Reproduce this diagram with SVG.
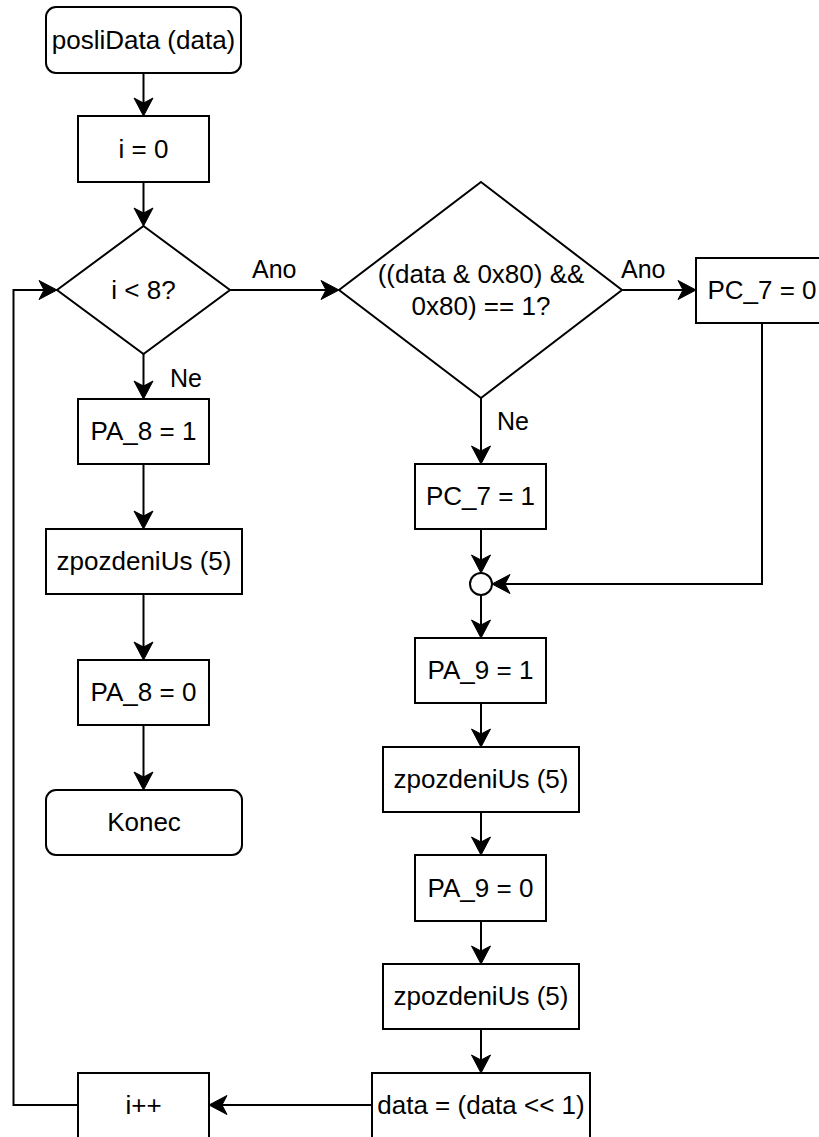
<svg xmlns="http://www.w3.org/2000/svg" width="819" height="1137" viewBox="0 0 819 1137">
<style>
.n{fill:#fff;stroke:#000;stroke-width:2}
.t{font-family:"Liberation Sans",Arial,sans-serif;font-size:26px;fill:#000;text-anchor:middle}
.l{font-family:"Liberation Sans",Arial,sans-serif;font-size:25px;fill:#000}
.c{fill:none;stroke:#000;stroke-width:2}
</style>
<defs>
<marker id="a" markerUnits="userSpaceOnUse" markerWidth="40" markerHeight="40" viewBox="-20 -20 40 40" refX="0" refY="0" orient="auto" overflow="visible">
<path d="M12,0 L-6,-9.5 L-1,0 L-6,9.5 Z" fill="#000" stroke="#000" stroke-width="1"/>
</marker>
</defs>
<rect width="819" height="1137" fill="#fff"/>
<g id="connectors">
<path class="c" marker-end="url(#a)" d="M143.5,73 V104"/>
<path class="c" marker-end="url(#a)" d="M143.5,182 V214"/>
<path class="c" marker-end="url(#a)" d="M143.5,354 V387"/>
<path class="c" marker-end="url(#a)" d="M143.5,464 V517"/>
<path class="c" marker-end="url(#a)" d="M143.5,594 V648"/>
<path class="c" marker-end="url(#a)" d="M143.5,725 V778"/>
<path class="c" marker-end="url(#a)" d="M230,290 H327"/>
<path class="c" marker-end="url(#a)" d="M622,290 H684"/>
<path class="c" marker-end="url(#a)" d="M481,398 V452"/>
<path class="c" marker-end="url(#a)" d="M762,323 V584 H504"/>
<path class="c" marker-end="url(#a)" d="M481,529 V561"/>
<path class="c" marker-end="url(#a)" d="M481,595 V626"/>
<path class="c" marker-end="url(#a)" d="M481,703 V735"/>
<path class="c" marker-end="url(#a)" d="M481,812 V843"/>
<path class="c" marker-end="url(#a)" d="M481,921 V952"/>
<path class="c" marker-end="url(#a)" d="M481,1029 V1061"/>
<path class="c" marker-end="url(#a)" d="M372,1105 H221"/>
<path class="c" marker-end="url(#a)" d="M78,1105 H13.5 V290 H45"/>
<text class="l" x="252" y="278">Ano</text>
<text class="l" x="621" y="278">Ano</text>
<text class="l" x="170" y="387">Ne</text>
<text class="l" x="497" y="430">Ne</text>
</g>
<g id="start"><rect class="n" x="46" y="7" width="195" height="66" rx="10"/><text class="t" x="143.5" y="49">posliData (data)</text></g>
<g id="init"><rect class="n" x="78" y="116" width="131" height="66"/><text class="t" x="143.5" y="158">i = 0</text></g>
<g id="cond1"><path class="n" d="M143.5,226 L230,290 L143.5,354 L57,290 Z"/><text class="t" x="143.5" y="299">i &lt; 8?</text></g>
<g id="pa8on"><rect class="n" x="78" y="399" width="131" height="65"/><text class="t" x="143.5" y="440">PA_8 = 1</text></g>
<g id="delay1"><rect class="n" x="46" y="529" width="196" height="65"/><text class="t" x="144" y="570">zpozdeniUs (5)</text></g>
<g id="pa8off"><rect class="n" x="78" y="660" width="131" height="65"/><text class="t" x="143.5" y="701">PA_8 = 0</text></g>
<g id="end"><rect class="n" x="46" y="790" width="196" height="65" rx="10"/><text class="t" x="144" y="831">Konec</text></g>
<g id="cond2"><path class="n" d="M481,182 L622,290 L481,398 L339,290 Z"/><text class="t" x="481" y="283">((data &amp; 0x80) &amp;&amp;</text><text class="t" x="481" y="315">0x80) == 1?</text></g>
<g id="pc7zero"><rect class="n" x="696" y="258" width="132" height="65"/><text class="t" x="762" y="299">PC_7 = 0</text></g>
<g id="pc7one"><rect class="n" x="415" y="464" width="131" height="65"/><text class="t" x="480.5" y="505">PC_7 = 1</text></g>
<g id="merge"><circle class="n" cx="481" cy="584" r="11"/></g>
<g id="pa9on"><rect class="n" x="415" y="638" width="131" height="65"/><text class="t" x="480.5" y="679">PA_9 = 1</text></g>
<g id="delay2"><rect class="n" x="383" y="747" width="196" height="65"/><text class="t" x="481" y="788">zpozdeniUs (5)</text></g>
<g id="pa9off"><rect class="n" x="415" y="855" width="131" height="66"/><text class="t" x="480.5" y="897">PA_9 = 0</text></g>
<g id="delay3"><rect class="n" x="383" y="964" width="196" height="65"/><text class="t" x="481" y="1005">zpozdeniUs (5)</text></g>
<g id="shift"><rect class="n" x="372" y="1073" width="218" height="66"/><text class="t" x="481" y="1114">data = (data &lt;&lt; 1)</text></g>
<g id="inc"><rect class="n" x="78" y="1073" width="131" height="66"/><text class="t" x="143.5" y="1114">i++</text></g>
</svg>
